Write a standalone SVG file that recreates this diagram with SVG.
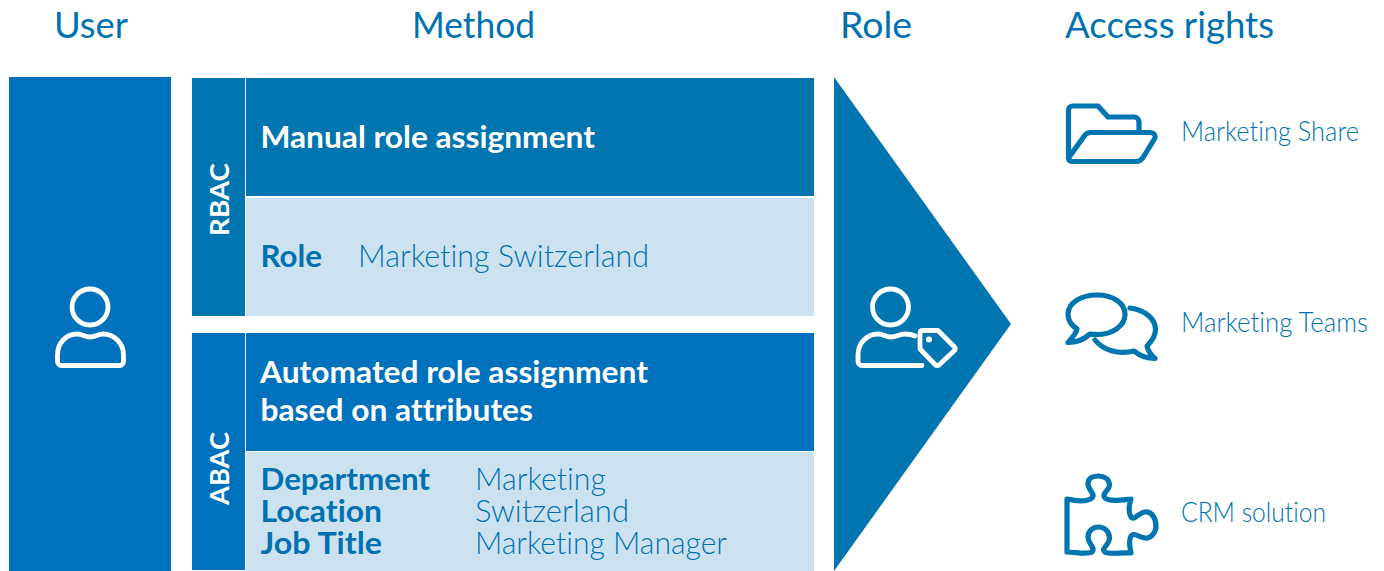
<svg xmlns="http://www.w3.org/2000/svg" width="1384" height="571" viewBox="0 0 1384 571">
<style>
text{font-family:"Lato","Open Sans","Liberation Sans",sans-serif;font-variant-ligatures:none}
.h{font-size:36px;fill:#0072b1}
.b{font-size:31px;font-weight:700;fill:#fff}
.k{font-size:31px;font-weight:700;fill:#0072b1}
.v{font-size:31px;font-weight:300;fill:#0072b1}
.a{font-size:27px;font-weight:300;fill:#0072b1}
.s{font-size:27px;font-weight:700;fill:#fff}
.iw{fill:none;stroke:#fff;stroke-width:4.8;stroke-linejoin:round;stroke-linecap:round}
.ib{fill:none;stroke:#0075b0;stroke-width:5.200;stroke-linejoin:round;stroke-linecap:round}
.d{fill:#0075b0}
.l{fill:#cde2f0}
</style>
<text class="h" x="54" y="38" textLength="74" lengthAdjust="spacingAndGlyphs">User</text>
<text class="h" x="412" y="38" textLength="123" lengthAdjust="spacingAndGlyphs">Method</text>
<text class="h" x="840" y="38" textLength="72" lengthAdjust="spacingAndGlyphs">Role</text>
<text class="h" x="1065" y="38" textLength="209" lengthAdjust="spacingAndGlyphs">Access rights</text>
<g id="user">
<rect x="9" y="77" width="162" height="494" fill="#0071bc"/>
<circle class="iw" cx="90" cy="307" r="18"/>
<path class="iw" d="M61.500 365.500H119.500a4 4 0 0 0 4-4V355C123.500 343 114 334 103 334C97 334 96 337 90 337C84 337 83 334 77 334C66 334 57.500 343 57.500 355V361.500a4 4 0 0 0 4 4Z"/>
</g>
<g id="rbac">
<rect class="d" x="192" y="78" width="53" height="238"/>
<rect class="d" x="246" y="78" width="568" height="118"/>
<rect class="l" x="246" y="198" width="568" height="118"/>
<text class="s" transform="translate(229 236) rotate(-90)" textLength="73" lengthAdjust="spacingAndGlyphs">RBAC</text>
<text class="b" x="260.500" y="148" textLength="334.500" lengthAdjust="spacingAndGlyphs">Manual role assignment</text>
<text class="k" x="260.500" y="267" textLength="61.500" lengthAdjust="spacingAndGlyphs">Role</text>
<text class="v" x="358" y="267" textLength="291" lengthAdjust="spacingAndGlyphs">Marketing Switzerland</text>
</g>
<g id="abac">
<rect fill="#0071bc" x="192" y="333" width="53" height="237"/>
<rect fill="#0071bc" x="246" y="333" width="568" height="118"/>
<rect class="l" x="246" y="452" width="568" height="119"/>
<text class="s" transform="translate(229 505) rotate(-90)" textLength="73" lengthAdjust="spacingAndGlyphs">ABAC</text>
<text class="b" x="260" y="383" textLength="388" lengthAdjust="spacingAndGlyphs">Automated role assignment</text>
<text class="b" x="260.500" y="421" textLength="272.500" lengthAdjust="spacingAndGlyphs">based on attributes</text>
<text class="k" x="260.500" y="490" textLength="169.500" lengthAdjust="spacingAndGlyphs">Department</text>
<text class="k" x="260.500" y="522" textLength="121.500" lengthAdjust="spacingAndGlyphs">Location</text>
<text class="k" x="260.500" y="554" textLength="121.500" lengthAdjust="spacingAndGlyphs">Job Title</text>
<text class="v" x="475" y="490" textLength="131" lengthAdjust="spacingAndGlyphs">Marketing</text>
<text class="v" x="475" y="522" textLength="154" lengthAdjust="spacingAndGlyphs">Switzerland</text>
<text class="v" x="475" y="554" textLength="252" lengthAdjust="spacingAndGlyphs">Marketing Manager</text>
</g>
<g id="role">
<path class="d" d="M834 77L1011 324L834 571Z"/>
<circle class="iw" cx="890.500" cy="307" r="18"/>
<path class="iw" d="M922 365.500H862a4 4 0 0 1-4-4V355C858 343 867 334 878 334C884 334 885 337 891 337C897 337 899 334 905 334C909 334 912 334.500 915 336"/>
<path class="iw" d="M923 330.500H938L955 347.500Q955.500 349 955 350L939 365Q937 366 935.500 365L920 349V333.500Q920 330.500 923 330.500Z"/>
<circle cx="929" cy="339.500" r="3" fill="#fff"/>
</g>
<g id="share">
<path class="ib" d="M1068.500 158V110a4 4 0 0 1 4-4H1098L1108 117H1134a5 5 0 0 1 5 5V130"/>
<path class="ib" d="M1068.500 158L1085 135Q1087 132.500 1091 132.500H1150Q1156 133 1155 138L1144 156Q1141 161.500 1136 161.500H1073Q1068.500 161.500 1068.500 158Z"/>
<text class="a" x="1181" y="141" textLength="178" lengthAdjust="spacingAndGlyphs">Marketing Share</text>
</g>
<g id="teams">
<path class="ib" d="M1097 295C1113 295 1125 303 1125 314.500C1125 326 1112 334.500 1097 334.500C1094 334.500 1092 334.500 1090 334C1084 339.500 1076 342.500 1068 342.500C1072 338 1076 334 1077 329C1071 325 1068 320 1068 314.500C1068 303 1081 295 1097 295Z"/>
<path class="ib" d="M1130 308C1145 310 1155.500 319 1155.500 329.500C1155.500 336 1151 342 1147 346C1148 351 1151 355 1155 358.500C1148 358.500 1140 356 1134 351C1118 355 1103 350 1095 340"/>
<text class="a" x="1181" y="332" textLength="187" lengthAdjust="spacingAndGlyphs">Marketing Teams</text>
</g>
<g id="crm">
<path class="ib" d="M1067 499C1076 501 1087 502 1092 498C1096 494 1088 490 1088 484C1088 478 1093 476 1098.500 476C1104 476 1109.500 479 1109.500 485C1109.500 490 1101 494 1105 498C1110 502 1122 500 1131 499C1129 505 1128 512 1131 517C1134 521 1138 513 1145 512C1152 511 1156 519 1156 526C1156 532 1151 539 1145 538C1138 537 1134 532 1131 536C1128 541 1130 547 1131 553C1122 552 1110 555 1105 552C1100 549 1109.500 545 1109.500 538C1109.500 531 1104 527 1098.500 527C1093 527 1088 531 1088 537C1088 544 1096 548 1092 552C1086 555 1076 552 1067 552Z"/>
<text class="a" x="1181" y="522" textLength="145" lengthAdjust="spacingAndGlyphs">CRM solution</text>
</g>
</svg>
